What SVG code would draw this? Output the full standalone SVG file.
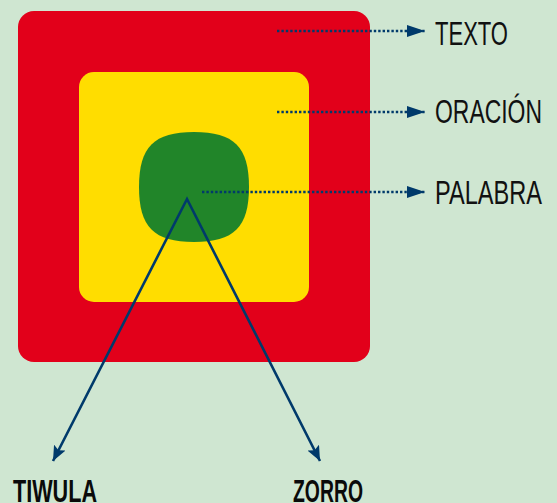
<svg xmlns="http://www.w3.org/2000/svg" width="557" height="503" viewBox="0 0 557 503">
<style>
.lbl{font-family:"Liberation Sans",Arial,sans-serif;font-size:33px;fill:#111}
.word{font-family:"Liberation Sans",Arial,sans-serif;font-size:31px;font-weight:bold;fill:#0a0a0a}
.dot{stroke:#003a6b;stroke-width:2.6;stroke-dasharray:2.4 2;fill:none}
.sol{stroke:#003a6b;stroke-width:2.6;fill:none;stroke-linejoin:miter}
</style>
<defs>
<marker id="dh" markerUnits="userSpaceOnUse" markerWidth="20" markerHeight="12" refX="18" refY="6" orient="auto">
<path d="M0,0 L18,6 L0,12 Z" fill="#003a6b"/>
</marker>
<marker id="sh" markerUnits="userSpaceOnUse" markerWidth="16" markerHeight="13" refX="15" refY="6.5" orient="auto-start-reverse">
<path d="M0,0 L15,6.5 L0,13 L3,6.5 Z" fill="#003a6b"/>
</marker>
</defs>
<rect width="557" height="503" fill="#cfe6d1"/>
<g id="texto"><rect x="18" y="11" width="352" height="351" rx="16" fill="#e2001a"/></g>
<g id="oracion"><rect x="79" y="72" width="230" height="230" rx="15" fill="#ffdd00"/></g>
<g id="palabra"><path d="M194 132 C234 132 249 147 249 187 C249 227 234 242 194 242 C154 242 139 227 139 187 C139 147 154 132 194 132 Z" fill="#218529"/></g>
<g id="connectors">
<line class="dot" x1="277" y1="31" x2="425" y2="31" marker-end="url(#dh)"/>
<line class="dot" x1="277" y1="112" x2="425" y2="112" marker-end="url(#dh)"/>
<line class="dot" x1="202" y1="192" x2="425" y2="192" marker-end="url(#dh)"/>
<polyline class="sol" points="53,461 187,199 320,461" marker-start="url(#sh)" marker-end="url(#sh)"/>
</g>
<g id="lbl-texto"><text class="lbl" x="435" y="45" textLength="73" lengthAdjust="spacingAndGlyphs">TEXTO</text></g>
<g id="lbl-oracion"><text class="lbl" x="435" y="123" textLength="107" lengthAdjust="spacingAndGlyphs">ORACIÓN</text></g>
<g id="lbl-palabra"><text class="lbl" x="435" y="204" textLength="107" lengthAdjust="spacingAndGlyphs">PALABRA</text></g>
<g id="tiwula"><text class="word" x="13" y="502" textLength="84" lengthAdjust="spacingAndGlyphs">TIWULA</text></g>
<g id="zorro"><text class="word" x="293" y="502" textLength="70" lengthAdjust="spacingAndGlyphs">ZORRO</text></g>
</svg>
